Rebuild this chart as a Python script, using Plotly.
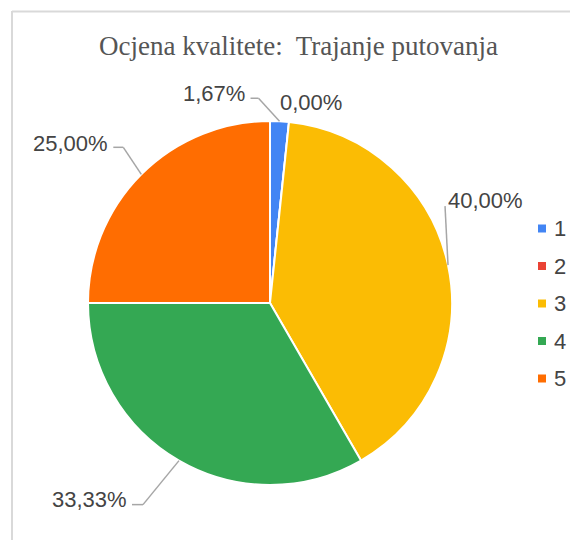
import math
import plotly.graph_objects as go

# ---- data ----
categories = ["1", "2", "3", "4", "5"]
counts = [1, 0, 24, 20, 15]
colors = ["#4285F4", "#EA4335", "#FBBC04", "#34A853", "#FF6D01"]
title_text = "Ocjena kvalitete:  Trajanje putovanja"

# ---- layout constants (page pixels) ----
PAGE_W, PAGE_H = 578, 540
OFF = 8  # default body margin of the page
W, H = PAGE_W - OFF, PAGE_H - OFF
CX, CY, R = 270, 303, 182
# per-slice label placement: elbow offset from slice edge point, tail length, text offset, anchor
label_layout = [
    dict(elbow=(-21, -23), tail=-8, text=(-4, -5), anchor="right", line=True),
    dict(elbow=(-11, -19), tail=0, text=(0, 0), anchor="left", line=False),
    dict(elbow=(-3, -59), tail=0, text=(1, -6), anchor="left", line=True),
    dict(elbow=(-36, 44), tail=-11, text=(-3, -5), anchor="right", line=True),
    dict(elbow=(-18, -27), tail=-10, text=(-3, -4), anchor="right", line=True),
]
LABEL_FONT = dict(family="Liberation Sans, Arial", size=22, color="#444444")


def px(x):
    return (x - OFF) / W


def py(y):
    return 1 - (y - OFF) / H


fig = go.Figure()
fig.add_trace(go.Pie(
    labels=categories, values=counts, sort=False, direction="clockwise",
    rotation=0, marker=dict(colors=colors, line=dict(color="white", width=2)),
    textinfo="none", hoverinfo="label+percent", showlegend=False,
    domain=dict(x=[px(CX - R), px(CX + R)], y=[py(CY + R), py(CY - R)]),
))

total = sum(counts)
shapes = []
annotations = []
cum = 0
for i, v in enumerate(counts):
    frac = v / total
    mid = (cum + frac / 2) * 2 * math.pi
    cum += frac
    sx = CX + R * math.sin(mid)
    sy = CY - R * math.cos(mid)
    lay = label_layout[i]
    ex, ey = sx + lay["elbow"][0], sy + lay["elbow"][1]
    tx = ex + lay["tail"]
    if lay["line"]:
        for (x0, y0, x1, y1) in [(sx, sy, ex, ey), (ex, ey, tx, ey)]:
            if (x0, y0) != (x1, y1):
                shapes.append(dict(type="line", xref="paper", yref="paper",
                                   x0=px(x0), y0=py(y0), x1=px(x1), y1=py(y1),
                                   line=dict(color="#a6a6a6", width=1.5)))
    label = f"{frac * 100:.2f}%".replace(".", ",")
    annotations.append(dict(
        x=px(tx + lay["text"][0]), y=py(ey + lay["text"][1]), xref="paper", yref="paper",
        text=label, showarrow=False, xanchor=lay["anchor"], yanchor="middle",
        font=LABEL_FONT))

# legend (custom)
LEG_X, LEG_Y0, LEG_DY = 538, 228.5, 37.5
for i, (c, col) in enumerate(zip(categories, colors)):
    yc = LEG_Y0 + i * LEG_DY
    shapes.append(dict(type="rect", xref="paper", yref="paper",
                       x0=px(LEG_X), x1=px(LEG_X + 8), y0=py(yc + 4), y1=py(yc - 4),
                       fillcolor=col, line=dict(width=0)))
    annotations.append(dict(x=px(LEG_X + 14), y=py(yc), xref="paper", yref="paper",
                            text=c, showarrow=False, xanchor="left", yanchor="middle",
                            font=LABEL_FONT))

# title
annotations.append(dict(x=px(298), y=py(46), xref="paper", yref="paper",
                        text=title_text, showarrow=False, xanchor="center", yanchor="middle",
                        font=dict(family="Liberation Serif, Times New Roman", size=27, color="#555555")))

# frame border (top and left visible)
shapes.append(dict(type="line", xref="paper", yref="paper", x0=px(12), y0=py(11.5), x1=1.0, y1=py(11.5),
                   line=dict(color="#d9d9d9", width=2)))
shapes.append(dict(type="line", xref="paper", yref="paper", x0=px(12), y0=py(11), x1=px(12), y1=0,
                   line=dict(color="#d9d9d9", width=2)))

fig.update_layout(width=W, height=H, margin=dict(l=0, r=0, t=0, b=0),
                  paper_bgcolor="white", plot_bgcolor="white",
                  shapes=shapes, annotations=annotations, showlegend=False)
fig.write_html("out.html")
